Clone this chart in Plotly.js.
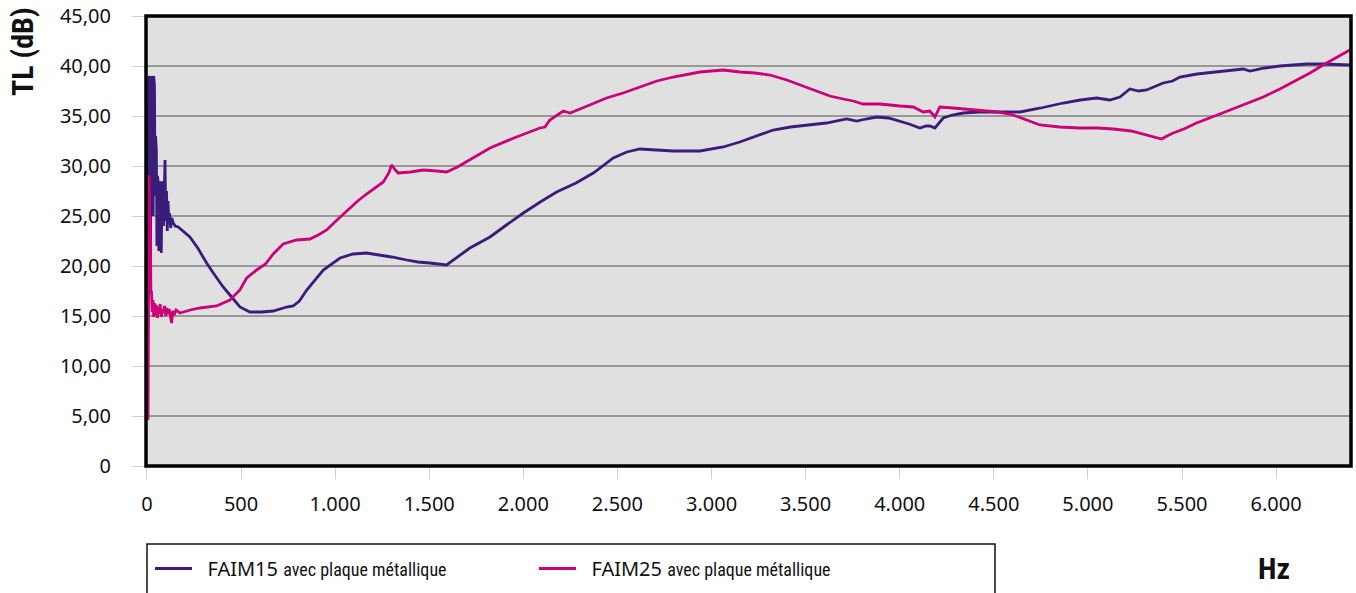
<!DOCTYPE html>
<html>
<head>
<meta charset="utf-8">
<script src="https://cdn.plot.ly/plotly-3.0.1.min.js"></script>
<style>html,body{margin:0;padding:0;background:#fff;}#chart{width:1356px;height:593px;}</style>
</head>
<body>
<div id="chart"></div>
<script>
// FAIM15 avec plaque métallique
const freq15 = [3, 6, 9, 11, 13, 16, 19, 21, 24, 27, 30, 33, 36, 40, 43, 46, 50, 53, 56, 60, 63, 66, 70, 73, 76, 80, 84, 88, 92, 96, 100, 104, 108, 112, 116, 120, 126, 132, 140, 150, 166, 190, 228, 270, 317, 360, 405, 450, 494, 547, 610, 671, 742, 777, 810, 849, 937, 1026, 1096, 1167, 1238, 1300, 1380, 1440, 1504, 1592, 1716, 1823, 1910, 2000, 2090, 2177, 2280, 2372, 2478, 2550, 2620, 2700, 2797, 2938, 3062, 3150, 3240, 3328, 3420, 3505, 3610, 3718, 3771, 3820, 3877, 3940, 4001, 4050, 4107, 4140, 4160, 4187, 4231, 4280, 4338, 4420, 4515, 4639, 4750, 4869, 4960, 5046, 5117, 5170, 5223, 5270, 5312, 5360, 5400, 5450, 5489, 5580, 5666, 5750, 5825, 5861, 5940, 6020, 6100, 6162, 6250, 6392];
const tl15 = [10, 28, 39, 38.6, 36.8, 39, 17.3, 38.5, 37, 39, 38.5, 25, 39, 38, 27, 33, 31.5, 22, 29, 28.3, 21.5, 28.5, 24, 28.4, 21.3, 27, 28.5, 24, 27, 30.6, 24.5, 27.5, 23.5, 26.5, 24.5, 25.3, 23.8, 24.8, 24.3, 24.0, 23.9, 23.5, 22.9, 21.8, 20.3, 19.1, 17.9, 16.9, 15.9, 15.4, 15.4, 15.5, 15.9, 16.0, 16.5, 17.6, 19.6, 20.8, 21.2, 21.3, 21.1, 20.9, 20.6, 20.4, 20.3, 20.1, 21.8, 22.9, 24.1, 25.3, 26.4, 27.4, 28.3, 29.3, 30.8, 31.4, 31.7, 31.6, 31.5, 31.5, 31.9, 32.4, 33.0, 33.6, 33.9, 34.1, 34.3, 34.7, 34.5, 34.7, 34.9, 34.8, 34.5, 34.2, 33.8, 34.0, 34.0, 33.8, 34.8, 35.1, 35.3, 35.4, 35.4, 35.4, 35.8, 36.3, 36.6, 36.8, 36.6, 36.9, 37.7, 37.5, 37.6, 38.0, 38.3, 38.5, 38.9, 39.2, 39.4, 39.6, 39.7, 39.5, 39.8, 40.0, 40.1, 40.2, 40.2, 40.1];

// FAIM25 avec plaque métallique
const freq25 = [4, 6, 9, 11, 13, 15, 17, 19, 21, 24, 28, 32, 36, 40, 45, 50, 55, 60, 65, 70, 76, 82, 88, 94, 100, 106, 112, 118, 125, 131, 137, 145, 155, 175, 230, 282, 370, 441, 494, 530, 583, 630, 671, 724, 795, 866, 910, 955, 1010, 1061, 1120, 1167, 1220, 1256, 1285, 1300, 1320, 1335, 1400, 1468, 1540, 1592, 1650, 1716, 1823, 1950, 2088, 2115, 2141, 2212, 2248, 2340, 2442, 2530, 2620, 2710, 2797, 2938, 3062, 3151, 3230, 3310, 3400, 3505, 3570, 3629, 3700, 3753, 3806, 3895, 4001, 4072, 4125, 4160, 4187, 4213, 4284, 4426, 4520, 4603, 4680, 4745, 4850, 4957, 5050, 5134, 5230, 5312, 5360, 5392, 5420, 5453, 5510, 5577, 5660, 5754, 5840, 5932, 6020, 6109, 6180, 6250, 6320, 6392];
const tl25 = [4.6, 4.8, 20, 29.1, 27, 17.5, 25, 22, 17.4, 17.5, 15.4, 16.6, 14.9, 16.3, 15.1, 16.1, 14.8, 15.9, 15.2, 16.2, 14.9, 15.7, 15.3, 16.0, 15.0, 15.8, 15.2, 15.7, 15.0, 14.3, 15.5, 15.1, 15.6, 15.3, 15.6, 15.8, 16.0, 16.6, 17.6, 18.8, 19.6, 20.2, 21.2, 22.2, 22.6, 22.7, 23.1, 23.6, 24.6, 25.5, 26.5, 27.2, 27.9, 28.4, 29.3, 30.1, 29.6, 29.3, 29.4, 29.6, 29.5, 29.4, 29.9, 30.6, 31.8, 32.8, 33.8, 33.9, 34.6, 35.5, 35.3, 36.0, 36.8, 37.3, 37.9, 38.5, 38.9, 39.4, 39.6, 39.4, 39.3, 39.1, 38.6, 37.9, 37.4, 37.0, 36.7, 36.5, 36.2, 36.2, 36.0, 35.9, 35.4, 35.5, 34.9, 35.9, 35.8, 35.6, 35.4, 35.1, 34.6, 34.1, 33.9, 33.8, 33.8, 33.7, 33.5, 33.1, 32.9, 32.7, 33.0, 33.3, 33.7, 34.3, 34.9, 35.6, 36.2, 36.9, 37.7, 38.6, 39.3, 40.1, 40.8, 41.6];

const xTickVals = [0, 500, 1000, 1500, 2000, 2500, 3000, 3500, 4000, 4500, 5000, 5500, 6000];
const xTickText = ["0", "500", "1.000", "1.500", "2.000", "2.500", "3.000", "3.500", "4.000", "4.500", "5.000", "5.500", "6.000"];
const yTickVals = [0, 5, 10, 15, 20, 25, 30, 35, 40, 45];
const yTickText = ["0", "5,00", "10,00", "15,00", "20,00", "25,00", "30,00", "35,00", "40,00", "45,00"];

const seriesNames = ["FAIM15", "FAIM25"];
const seriesSuffix = "avec plaque métallique";

const W = 1356, H = 593;
const mL = 146, mR = 5, mT = 16, mB = 127;
const plotW = W - mL - mR, plotH = H - mT - mB;
const px2x = p => (p - mL) / plotW;
const px2y = p => (H - mB - p) / plotH;

const narrow = "'Roboto Condensed', 'Noto Sans', sans-serif";
const legendLabel = n => "\u00a0\u00a0" + n + " <span style=\"font-family:'Roboto Condensed', 'Noto Sans', sans-serif;font-size:18px\">" + seriesSuffix + "</span>";

const traces = [
  {x: freq15, y: tl15, type: "scatter", mode: "lines", name: legendLabel(seriesNames[0]),
   line: {color: "#3a1c7a", width: 2.8}},
  {x: freq25, y: tl25, type: "scatter", mode: "lines", name: legendLabel(seriesNames[1]),
   line: {color: "#cc0077", width: 2.8}}
];

const layout = {
  width: W, height: H,
  margin: {l: mL, r: mR, t: mT, b: mB, pad: 0},
  paper_bgcolor: "#ffffff",
  plot_bgcolor: "#e0e0e0",
  font: {family: "'Noto Sans', sans-serif", size: 20, color: "#111"},
  showlegend: true,
  legend: {
    orientation: "h", x: px2x(150), y: px2y(549), xanchor: "left", yanchor: "top",
    bgcolor: "rgba(0,0,0,0)", borderwidth: 0,
    font: {family: "'Noto Sans', sans-serif", size: 20, color: "#111"},
    entrywidth: 332, entrywidthmode: "pixels", itemwidth: 37
  },
  xaxis: {
    range: [-5, 6398], tickvals: xTickVals, ticktext: xTickText,
    showgrid: false, zeroline: false, showline: false,
    ticks: "outside", ticklen: 12, tickwidth: 1, tickcolor: "#cfcfcf",
    ticklabelstandoff: 8,
    tickfont: {size: 20, color: "#111"}, fixedrange: true
  },
  yaxis: {
    range: [0, 45], tickvals: yTickVals, ticktext: yTickText,
    showgrid: true, gridcolor: "#999999", gridwidth: 2,
    zeroline: false, showline: false,
    ticks: "outside", ticklen: 13, tickwidth: 1, tickcolor: "#cfcfcf",
    ticklabelstandoff: 17,
    tickfont: {size: 20, color: "#111"}, fixedrange: true
  },
  shapes: [
    {type: "rect", xref: "paper", yref: "paper", x0: 0, x1: 1, y0: 0, y1: 1,
     line: {color: "#000", width: 3.5}, fillcolor: "rgba(0,0,0,0)", layer: "above"},
    {type: "rect", xref: "paper", yref: "paper", x0: px2x(147), x1: px2x(995), y0: px2y(544), y1: px2y(600),
     line: {color: "#111", width: 1.5}, fillcolor: "rgba(0,0,0,0)"}
  ],
  annotations: [
    {text: "<b>TL (dB)</b>", xref: "paper", yref: "paper", x: px2x(23), y: px2y(52),
     xanchor: "center", yanchor: "middle", textangle: -90, showarrow: false,
     font: {family: narrow, size: 30, color: "#111"}},
    {text: "<b>Hz</b>", xref: "paper", yref: "paper", x: px2x(1274), y: px2y(568),
     xanchor: "center", yanchor: "middle", showarrow: false,
     font: {family: narrow, size: 30, color: "#111"}}
  ]
};

Plotly.newPlot("chart", traces, layout, {displayModeBar: false, staticPlot: true});
</script>
</body>
</html>
